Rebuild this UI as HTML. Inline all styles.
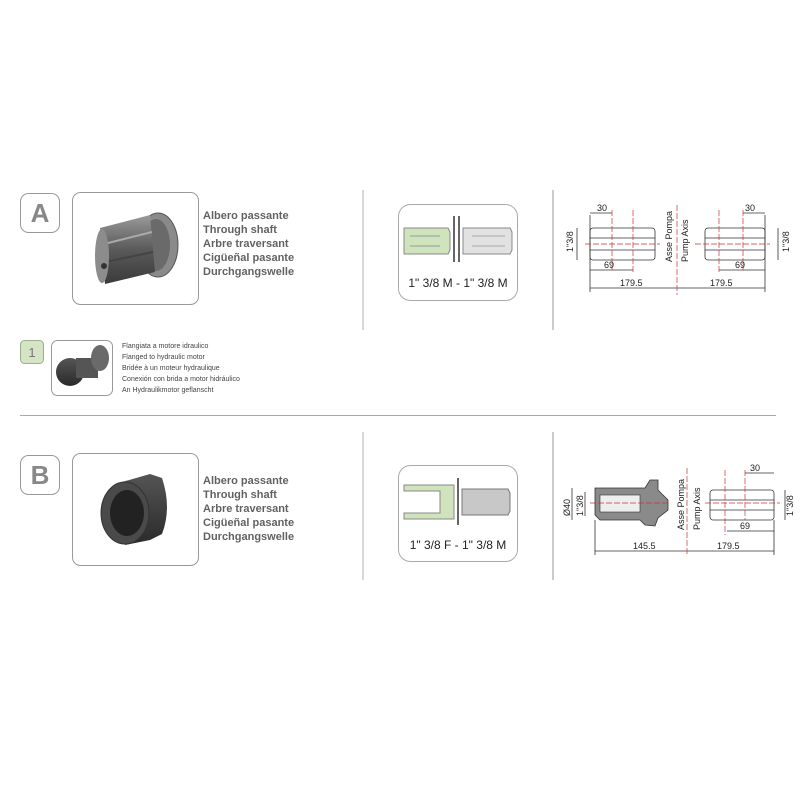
<!DOCTYPE html>
<html><head><meta charset="utf-8"><style>
body{margin:0;background:#fff;}
svg{display:block}
text{font-family:"Liberation Sans",Arial,sans-serif;}
</style></head><body>
<svg width="800" height="800" viewBox="0 0 800 800" xmlns="http://www.w3.org/2000/svg">
<defs>
<linearGradient id="met" x1="0" y1="0" x2="0" y2="1"><stop offset="0" stop-color="#9a9a9a"/><stop offset="0.5" stop-color="#5a5a5a"/><stop offset="1" stop-color="#3a3a3a"/></linearGradient>
<linearGradient id="dk" x1="0" y1="0" x2="0" y2="1"><stop offset="0" stop-color="#555"/><stop offset="1" stop-color="#2a2a2a"/></linearGradient>
</defs>
<!-- Section A -->
<rect x="20.5" y="193.5" width="39" height="39" rx="8" fill="#fff" stroke="#999"/>
<text x="40" y="222" font-size="26" font-weight="bold" fill="#888" text-anchor="middle">A</text>
<rect x="72.5" y="192.5" width="126" height="112" rx="8" fill="#fff" stroke="#999"/>
<ellipse cx="158" cy="245" rx="20" ry="32" fill="#8a8a8a" stroke="#555"/>
<ellipse cx="156" cy="245" rx="14" ry="26" fill="#6a6a6a"/>
<polygon points="100,228 150,215 155,272 105,284" fill="url(#met)"/>
<line x1="104" y1="244" x2="152" y2="232" stroke="#aaa" stroke-width="2"/>
<line x1="105" y1="262" x2="153" y2="252" stroke="#444" stroke-width="2"/>
<ellipse cx="102" cy="256" rx="7" ry="27" fill="#8c8c8c"/>
<circle cx="104" cy="266" r="3" fill="#333"/>
<g font-size="11" fill="#3a3a3a" font-weight="bold" opacity="0.8">
<text x="203" y="219">Albero passante</text><text x="203" y="233">Through shaft</text><text x="203" y="247">Arbre traversant</text><text x="203" y="261">Cigüeñal pasante</text><text x="203" y="275">Durchgangswelle</text>
</g>
<line x1="363" y1="190" x2="363" y2="330" stroke="#ccc" stroke-width="1.5"/>
<line x1="553" y1="190" x2="553" y2="330" stroke="#ccc" stroke-width="2"/>
<!-- middle A -->
<rect x="398.5" y="204.5" width="119" height="96" rx="12" fill="#fff" stroke="#aaa"/>
<path d="M404,228 L448,228 L450,232 L450,250 L448,254 L404,254 Z" fill="#cfe3bd" stroke="#888"/>
<path d="M410,236 L440,236 M410,246 L440,246" stroke="#9a9a9a"/>
<line x1="454" y1="216" x2="454" y2="262" stroke="#666" stroke-width="2"/>
<line x1="459" y1="216" x2="459" y2="262" stroke="#666" stroke-width="2"/>
<path d="M463,228 L510,228 L512,232 L512,250 L510,254 L463,254 Z" fill="#e2e2e2" stroke="#888"/>
<path d="M472,236 L505,236 M472,246 L505,246" stroke="#aaa"/>
<text x="458" y="287" font-size="12" fill="#222" text-anchor="middle">1" 3/8 M - 1" 3/8 M</text>
<!-- drawing A -->
<g stroke="#333" fill="none" stroke-width="0.8">
<rect x="590" y="228" width="65" height="32" rx="3"/>
<line x1="590" y1="238" x2="655" y2="238"/><line x1="590" y1="250" x2="655" y2="250"/>
<rect x="705" y="228" width="60" height="32" rx="3"/>
<line x1="705" y1="238" x2="765" y2="238"/><line x1="705" y1="250" x2="765" y2="250"/>
<line x1="590" y1="213" x2="612" y2="213"/><line x1="743" y1="213" x2="765" y2="213"/>
<line x1="590" y1="270" x2="633" y2="270"/><line x1="719" y1="270" x2="765" y2="270"/>
<line x1="590" y1="288" x2="765" y2="288"/>
<line x1="590" y1="215" x2="590" y2="292"/><line x1="765" y1="215" x2="765" y2="292"/>
<line x1="577" y1="228" x2="577" y2="260"/><line x1="778" y1="228" x2="778" y2="260"/>
</g>
<g stroke="#c33" stroke-width="0.7" stroke-dasharray="6,2">
<line x1="612" y1="210" x2="612" y2="270"/><line x1="633" y1="210" x2="633" y2="272"/>
<line x1="719" y1="210" x2="719" y2="272"/><line x1="743" y1="210" x2="743" y2="270"/>
<line x1="585" y1="244" x2="660" y2="244"/><line x1="695" y1="244" x2="770" y2="244"/>
<line x1="677" y1="205" x2="677" y2="295"/>
</g>
<g font-size="9" fill="#222">
<text x="597" y="211">30</text><text x="745" y="211">30</text>
<text x="604" y="268">69</text><text x="735" y="268">69</text>
<text x="620" y="286">179.5</text><text x="710" y="286">179.5</text>
<text transform="translate(573,252) rotate(-90)">1"3/8</text>
<text transform="translate(789,252) rotate(-90)">1"3/8</text>
<text transform="translate(672,262) rotate(-90)">Asse Pompa</text>
<text transform="translate(688,262) rotate(-90)">Pump Axis</text>
</g>
<!-- sub 1 -->
<rect x="20.5" y="340.5" width="23" height="23" rx="4" fill="#d4e4c4" stroke="#9ab08a"/>
<text x="32" y="357" font-size="13" fill="#777" text-anchor="middle">1</text>
<rect x="51.5" y="340.5" width="61" height="55" rx="6" fill="#fff" stroke="#999"/>
<circle cx="70" cy="372" r="14" fill="url(#dk)"/>
<rect x="76" y="358" width="22" height="20" fill="#555"/>
<ellipse cx="100" cy="358" rx="9" ry="13" fill="#6a6a6a"/>
<g font-size="7" fill="#444">
<text x="122" y="348">Flangiata a motore idraulico</text><text x="122" y="359">Flanged to hydraulic motor</text><text x="122" y="370">Bridée à un moteur hydraulique</text><text x="122" y="381">Conexión con brida a motor hidráulico</text><text x="122" y="392">An Hydraulikmotor geflanscht</text>
</g>
<line x1="20" y1="415.5" x2="776" y2="415.5" stroke="#aaa"/>
<!-- Section B -->
<rect x="20.5" y="455.5" width="39" height="39" rx="8" fill="#fff" stroke="#999"/>
<text x="40" y="484" font-size="26" font-weight="bold" fill="#888" text-anchor="middle">B</text>
<rect x="72.5" y="453.5" width="126" height="112" rx="8" fill="#fff" stroke="#999"/>
<path d="M122,482 L150,474 L162,478 Q172,508 162,534 L150,540 L125,545 Z" fill="url(#dk)"/>
<ellipse cx="125" cy="513" rx="24" ry="31" fill="#4a4a4a" stroke="#333"/>
<ellipse cx="127" cy="513" rx="17" ry="23" fill="#222"/>
<g font-size="11" fill="#3a3a3a" font-weight="bold" opacity="0.8">
<text x="203" y="484">Albero passante</text><text x="203" y="498">Through shaft</text><text x="203" y="512">Arbre traversant</text><text x="203" y="526">Cigüeñal pasante</text><text x="203" y="540">Durchgangswelle</text>
</g>
<line x1="363" y1="432" x2="363" y2="580" stroke="#ccc" stroke-width="1.5"/>
<line x1="553" y1="432" x2="553" y2="580" stroke="#ccc" stroke-width="2"/>
<!-- middle B -->
<rect x="398.5" y="465.5" width="119" height="96" rx="12" fill="#fff" stroke="#aaa"/>
<path d="M404,485 L454,485 L454,519 L404,519 L404,513 L440,513 L440,491 L404,491 Z" fill="#cfe3bd" stroke="#888"/>
<line x1="458" y1="478" x2="458" y2="525" stroke="#666" stroke-width="2"/>
<path d="M462,489 L508,489 L510,493 L510,511 L508,515 L462,515 Z" fill="#c8c8c8" stroke="#777"/>
<text x="458" y="549" font-size="12" fill="#222" text-anchor="middle">1" 3/8 F - 1" 3/8 M</text>
<!-- drawing B -->
<path d="M595,488 L645,488 L650,480 L658,480 L658,490 L668,500 L668,510 L658,518 L655,526 L645,525 L640,520 L600,520 L595,515 Z" fill="#8a8a8a" stroke="#333" stroke-width="0.8"/>
<rect x="600" y="495" width="40" height="17" fill="#eee" stroke="#333" stroke-width="0.6"/>
<g stroke="#333" fill="none" stroke-width="0.8">
<rect x="710" y="490" width="64" height="30" rx="3"/>
<line x1="710" y1="500" x2="774" y2="500"/><line x1="710" y1="510" x2="774" y2="510"/>
<line x1="745" y1="473" x2="774" y2="473"/><line x1="727" y1="531" x2="774" y2="531"/>
<line x1="595" y1="551" x2="774" y2="551"/>
<line x1="595" y1="520" x2="595" y2="555"/><line x1="774" y1="520" x2="774" y2="555"/>
<line x1="572" y1="488" x2="572" y2="520"/><line x1="585" y1="492" x2="585" y2="516"/><line x1="785" y1="490" x2="785" y2="520"/>
</g>
<g stroke="#c33" stroke-width="0.7" stroke-dasharray="6,2">
<line x1="725" y1="470" x2="725" y2="535"/><line x1="745" y1="470" x2="745" y2="520"/>
<line x1="590" y1="503" x2="670" y2="503"/><line x1="705" y1="503" x2="780" y2="503"/>
<line x1="687" y1="468" x2="687" y2="556"/>
</g>
<g font-size="9" fill="#222">
<text x="750" y="471">30</text><text x="740" y="529">69</text>
<text x="633" y="549">145.5</text><text x="717" y="549">179.5</text>
<text transform="translate(570,516) rotate(-90)">Ø40</text>
<text transform="translate(583,516) rotate(-90)">1"3/8</text>
<text transform="translate(793,516) rotate(-90)">1"3/8</text>
<text transform="translate(684,530) rotate(-90)">Asse Pompa</text>
<text transform="translate(700,530) rotate(-90)">Pump Axis</text>
</g>
</svg>
</body></html>
